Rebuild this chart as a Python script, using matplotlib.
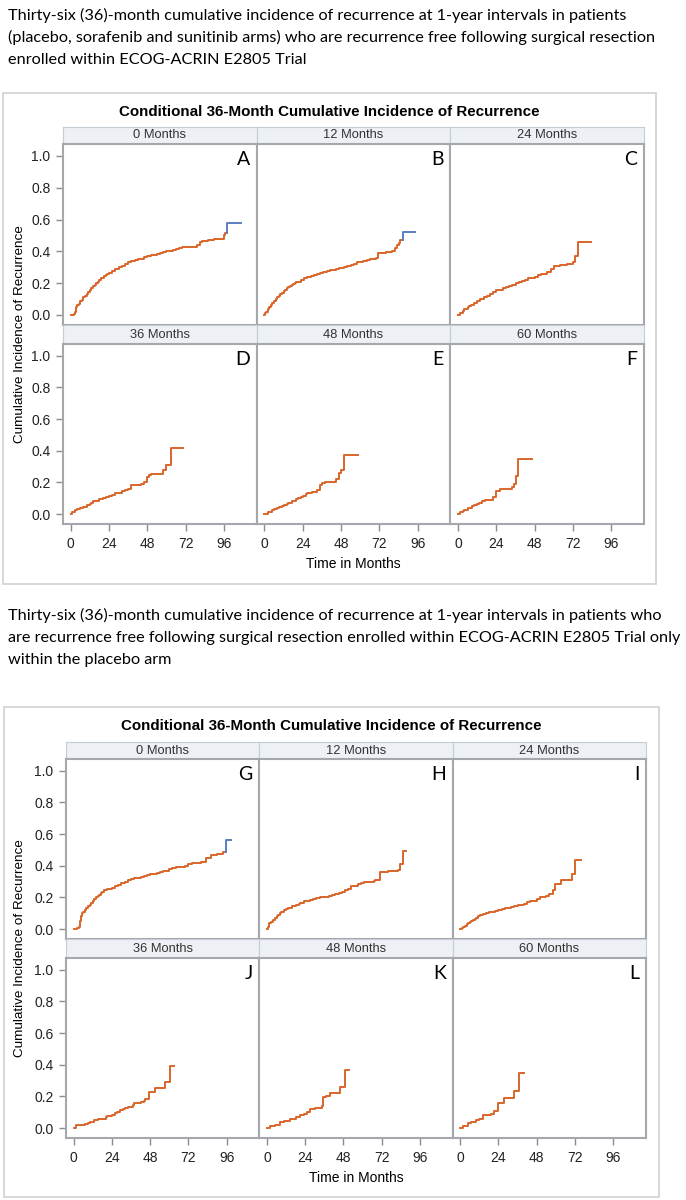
import numpy as np
import matplotlib
matplotlib.use('Agg')
import matplotlib.pyplot as plt
from matplotlib.patches import Rectangle

plt.rc('font', family='Liberation Sans')

caption_all = ['Thirty-six (36)-month cumulative incidence of recurrence at 1-year intervals in patients',
               '(placebo, sorafenib and sunitinib arms) who are recurrence free following surgical resection',
               'enrolled within ECOG-ACRIN E2805 Trial']
caption_pbo = ['Thirty-six (36)-month cumulative incidence of recurrence at 1-year intervals in patients who',
               'are recurrence free following surgical resection enrolled within ECOG-ACRIN E2805 Trial only',
               'within the placebo arm']
title = 'Conditional 36-Month Cumulative Incidence of Recurrence'
landmarks = ['0 Months', '12 Months', '24 Months', '36 Months', '48 Months', '60 Months']
letters_all = ['A', 'B', 'C', 'D', 'E', 'F']
letters_pbo = ['G', 'H', 'I', 'J', 'K', 'L']
xticks = [0, 24, 48, 72, 96]
yticks = [0.0, 0.2, 0.4, 0.6, 0.8, 1.0]

# ---- all arms ----
t_A = [0, 1, 2, 3, 3.5, 4, 5, 6, 7, 8, 9, 10, 11, 12, 13, 14, 15, 16, 17, 18, 19, 20, 21, 22, 23, 24, 26, 28, 30,
       32, 34, 36, 38, 40, 42, 44, 46, 48, 50, 52, 54, 56, 58, 60, 62, 64, 66, 68, 70, 72, 76, 79, 81, 82, 86, 90,
       94, 96, 96.8]
y_A = [0, 0, 0.005, 0.02, 0.05, 0.06, 0.07, 0.085, 0.095, 0.11, 0.12, 0.135, 0.145, 0.16, 0.17, 0.18, 0.19, 0.20,
       0.21, 0.22, 0.23, 0.235, 0.245, 0.25, 0.26, 0.265, 0.275, 0.29, 0.30, 0.31, 0.32, 0.33, 0.34, 0.345, 0.35,
       0.355, 0.365, 0.37, 0.375, 0.38, 0.385, 0.39, 0.395, 0.40, 0.405, 0.41, 0.415, 0.42, 0.425, 0.43, 0.43, 0.44,
       0.46, 0.465, 0.47, 0.475, 0.48, 0.50, 0.515]
t_B = [0, 0.5, 1, 2, 3, 4, 5, 6, 7, 8, 9, 10, 11, 12, 13, 14, 15, 16, 17, 18, 19, 20, 21, 23, 25, 27, 29, 31, 33,
       35, 37, 39, 41, 43, 45, 47, 50, 52, 54, 56, 58, 60, 62, 64, 66, 68, 70, 71, 74, 76, 80, 82, 83, 84, 85]
y_B = [0, 0.01, 0.02, 0.035, 0.05, 0.065, 0.075, 0.09, 0.10, 0.11, 0.12, 0.13, 0.14, 0.15, 0.16, 0.17, 0.175, 0.18,
       0.19, 0.195, 0.20, 0.205, 0.21, 0.22, 0.23, 0.24, 0.245, 0.25, 0.26, 0.265, 0.27, 0.275, 0.28, 0.285, 0.29,
       0.295, 0.30, 0.31, 0.315, 0.32, 0.33, 0.335, 0.34, 0.345, 0.35, 0.355, 0.36, 0.39, 0.39, 0.395, 0.40, 0.42,
       0.44, 0.45, 0.47]
t_C = [0, 1, 2, 3, 4, 5, 6, 7, 8, 10, 12, 14, 16, 18, 20, 22, 24, 26, 28, 30, 32, 34, 36, 38, 40, 42, 44, 46, 48,
       50, 52, 54, 56, 58, 60, 64, 68, 72, 73, 75]
y_C = [0, 0.01, 0.015, 0.025, 0.035, 0.04, 0.05, 0.055, 0.06, 0.075, 0.085, 0.10, 0.11, 0.12, 0.135, 0.145, 0.155,
       0.16, 0.17, 0.175, 0.185, 0.19, 0.20, 0.205, 0.215, 0.22, 0.23, 0.235, 0.24, 0.25, 0.255, 0.26, 0.27, 0.29,
       0.31, 0.315, 0.32, 0.33, 0.37, 0.46]
t_D = [0, 1, 2, 3, 4, 6, 7, 8, 10, 12, 13, 14, 16, 18, 20, 22, 24, 26, 28, 30, 32, 34, 36, 38, 44, 46, 48, 49, 50,
       56, 58, 60, 62.7]
y_D = [0, 0.01, 0.015, 0.025, 0.03, 0.035, 0.04, 0.045, 0.055, 0.065, 0.07, 0.08, 0.085, 0.095, 0.10, 0.105, 0.115,
       0.12, 0.13, 0.135, 0.145, 0.15, 0.16, 0.185, 0.19, 0.20, 0.235, 0.245, 0.25, 0.25, 0.28, 0.31, 0.415]
t_E = [0, 2, 3, 5, 6, 8, 9, 11, 12, 14, 15, 17, 18, 20, 21, 23, 24, 26, 27, 29, 30, 33, 35, 36, 38, 44, 45, 47, 48,
       50]
y_E = [0, 0.01, 0.015, 0.025, 0.03, 0.04, 0.045, 0.05, 0.055, 0.065, 0.07, 0.08, 0.085, 0.095, 0.10, 0.11, 0.115,
       0.125, 0.13, 0.135, 0.14, 0.15, 0.185, 0.195, 0.20, 0.20, 0.22, 0.26, 0.28, 0.375]
t_F = [0, 1, 2, 3, 4, 6, 7, 9, 10, 12, 13, 15, 17, 20, 22, 23.5, 26, 34, 35, 36.5, 37.6]
y_F = [0, 0.01, 0.015, 0.02, 0.025, 0.035, 0.04, 0.05, 0.055, 0.065, 0.07, 0.08, 0.09, 0.09, 0.11, 0.145, 0.16,
       0.17, 0.19, 0.24, 0.35]
end_all = [None, None, 83, 70.5, 58.5, 46]
# last step drawn in blue: (time, value, end time)
tail_all = [(97.6, 0.58, 106.4), (86.8, 0.52, 94.6), None, None, None, None]

# ---- placebo arm ----
t_G = [0, 2, 3.3, 4, 4.7, 5.4, 6, 7, 8, 9, 10, 11, 12, 13, 14, 15, 16, 17, 18, 19, 21, 22, 24, 26, 28, 30, 32, 34,
       36, 38, 40, 42, 44, 46, 48, 50, 52, 54, 56, 58, 60, 62, 64, 66, 68, 70, 72, 74, 78, 80, 83, 86, 90, 94]
y_G = [0, 0.005, 0.01, 0.05, 0.08, 0.10, 0.11, 0.12, 0.135, 0.145, 0.155, 0.165, 0.18, 0.19, 0.20, 0.21, 0.215,
       0.225, 0.235, 0.245, 0.25, 0.255, 0.26, 0.27, 0.28, 0.29, 0.30, 0.31, 0.315, 0.32, 0.325, 0.33, 0.335, 0.34,
       0.345, 0.35, 0.355, 0.36, 0.365, 0.37, 0.38, 0.385, 0.39, 0.39, 0.395, 0.40, 0.41, 0.415, 0.42, 0.425, 0.45,
       0.47, 0.475, 0.49]
t_H = [0, 0.5, 1, 1.5, 2.5, 4, 5, 6, 7, 8, 9, 10, 11, 12, 13, 14, 16, 18, 20, 21, 23, 25, 27, 29, 31, 33, 35, 37,
       39, 41, 43, 45, 47, 49, 51, 53, 55, 57, 59, 61, 63, 65, 67, 68, 71, 76, 82, 83.5, 85.4]
y_H = [0, 0.01, 0.02, 0.035, 0.046, 0.06, 0.07, 0.08, 0.09, 0.10, 0.105, 0.11, 0.12, 0.125, 0.13, 0.135, 0.145, 0.15,
       0.16, 0.165, 0.175, 0.18, 0.185, 0.19, 0.195, 0.20, 0.20, 0.205, 0.21, 0.215, 0.22, 0.23, 0.235, 0.245, 0.255,
       0.27, 0.275, 0.285, 0.29, 0.295, 0.30, 0.30, 0.305, 0.31, 0.36, 0.37, 0.375, 0.41, 0.495]
t_I = [0, 1, 2, 3, 4, 5, 6, 7, 8, 9, 10, 11, 12.4, 14, 16, 18, 20, 22, 24, 26, 28, 30, 32, 34, 36, 38, 40, 42, 44,
       46, 48, 50, 52, 54, 56, 58, 59.5, 63, 66, 70, 72.3]
y_I = [0, 0.005, 0.015, 0.02, 0.03, 0.035, 0.045, 0.05, 0.055, 0.065, 0.07, 0.08, 0.09, 0.095, 0.10, 0.105, 0.11,
       0.115, 0.12, 0.125, 0.13, 0.135, 0.14, 0.145, 0.15, 0.155, 0.16, 0.17, 0.175, 0.18, 0.19, 0.20, 0.205, 0.21,
       0.22, 0.245, 0.285, 0.31, 0.31, 0.35, 0.435]
t_J = [0, 1.6, 4, 6, 7, 9, 10, 12.5, 15, 18, 20, 21, 24, 26, 27, 29, 31, 32, 34, 35, 37, 38, 42, 44, 45, 47.4, 51,
       57.2, 60.7]
y_J = [0, 0.017, 0.02, 0.022, 0.025, 0.03, 0.035, 0.049, 0.055, 0.06, 0.07, 0.075, 0.08, 0.095, 0.10, 0.115, 0.12,
       0.125, 0.13, 0.135, 0.145, 0.158, 0.165, 0.17, 0.185, 0.225, 0.255, 0.29, 0.395]
t_K = [0, 2, 5, 8.3, 11, 14.6, 18, 21, 23, 25, 27, 30, 34.3, 35, 37, 39.7, 43, 46, 49]
y_K = [0, 0.01, 0.02, 0.038, 0.045, 0.06, 0.07, 0.08, 0.09, 0.10, 0.12, 0.125, 0.14, 0.195, 0.20, 0.22, 0.22,
       0.26, 0.37]
t_L = [0, 2, 4.8, 7, 10, 12, 14.1, 19, 21.3, 23.4, 27.5, 33.5, 36.8]
y_L = [0, 0.015, 0.03, 0.04, 0.05, 0.06, 0.08, 0.09, 0.11, 0.16, 0.19, 0.235, 0.35]
end_pbo = [None, 87.5, 75.8, 63, 51.5, 39.7]
tail_pbo = [(95.8, 0.56, 99), None, None, None, None, None]

ORANGE = '#D9652B'
BLUE = '#5C7EC0'
W, H = 686, 1200
fig = plt.figure(figsize=(W / 100, H / 100), dpi=100)


def rect(x0, y0, x1, y1):
    return [x0 / W, 1 - y1 / H, (x1 - x0) / W, (y1 - y0) / H]


def draw_group(top, left, colw, rows, box, caption, cap_y, times, cifs, ends, tails, letters):
    for k, line in enumerate(caption):
        fig.text(8 / W, 1 - (cap_y + 22 * k) / H, line, fontsize=11.7, family='Lato', va='baseline')
    bx0, by0, bx1, by1 = box
    fig.patches.append(Rectangle((bx0 / W, 1 - by1 / H), (bx1 - bx0) / W, (by1 - by0) / H,
                                 transform=fig.transFigure, fill=False, ec='#d4d4d4', lw=1.3))
    fig.text((bx0 + bx1) / 2 / W, 1 - top / H, title, fontsize=10.9, weight='bold',
             ha='center', va='center')
    for i in range(6):
        r, c = divmod(i, 3)
        hy0, hy1, py1 = rows[r]
        x0 = left + c * colw
        hax = fig.add_axes(rect(x0, hy0, x0 + colw, hy1))
        hax.set_facecolor('#edf0f5')
        hax.set_xticks([])
        hax.set_yticks([])
        for s in hax.spines.values():
            s.set_color('#c6ccd4')
        hax.text(0.5, 0.5, landmarks[i], ha='center', va='center', fontsize=9.3, color='#333333',
                 transform=hax.transAxes)

        ax = fig.add_axes(rect(x0, hy1, x0 + colw, py1))
        tail = tails[i]
        stop = tail[0] if tail else ends[i]
        ax.step(times[i] + [stop], cifs[i] + [cifs[i][-1]], where='post', color=ORANGE, lw=1.4)
        if tail:
            ax.plot([tail[0], tail[0], tail[2]], [cifs[i][-1], tail[1], tail[1]], color=BLUE, lw=1.4)
        ax.set_xlim(-4.8, 116.5)
        ax.set_ylim(-0.063, 1.075)
        ax.set_xticks(xticks)
        ax.set_yticks(yticks)
        ax.set_yticklabels(['%.1f' % v for v in yticks])
        ax.tick_params(direction='out', length=5, width=1, color='#8c8c8c', labelsize=10, pad=4,
                       labelcolor='#222222',
                       labelleft=(c == 0), left=(c == 0), labelbottom=(r == 1), bottom=(r == 1))
        for s in ax.spines.values():
            s.set_color('#a4a8ac')
            s.set_linewidth(1.5)
        ax.text(0.965, 0.96, letters[i], transform=ax.transAxes, ha='right', va='top',
                fontsize=14, family='Lato')
    fig.text((left + 1.5 * colw) / W, 1 - (rows[1][2] + 40) / H, 'Time in Months', fontsize=10,
             ha='center', va='center')
    fig.text(20 / W, 1 - (rows[0][1] + rows[1][2]) / 2 / H, 'Cumulative Incidence of Recurrence',
             rotation=90, fontsize=9.7, ha='center', va='center')


draw_group(112, 63, 193.7, [(127, 144, 325), (325, 344, 524)], (3, 93, 656, 584),
           caption_all, 20,
           [t_A, t_B, t_C, t_D, t_E, t_F], [y_A, y_B, y_C, y_D, y_E, y_F],
           end_all, tail_all, letters_all)
draw_group(726, 66, 193.3, [(742, 759, 939), (939, 958, 1138)], (4, 707, 659, 1197),
           caption_pbo, 620,
           [t_G, t_H, t_I, t_J, t_K, t_L], [y_G, y_H, y_I, y_J, y_K, y_L],
           end_pbo, tail_pbo, letters_pbo)

fig.savefig('out.png', dpi=100)
